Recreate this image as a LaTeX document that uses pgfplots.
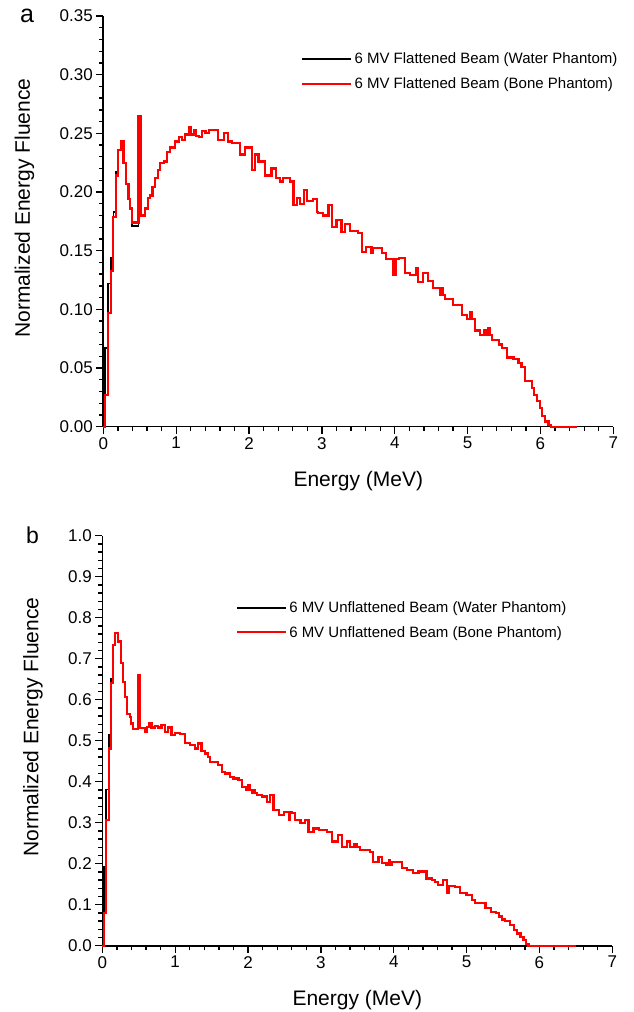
\documentclass[border=0pt]{standalone}
\usepackage{fontspec}
\setmainfont{Liberation Sans}
\usepackage{pgfplots}
\usepackage{pgfplotstable}
\pgfplotsset{compat=1.18}

\pgfplotstableread{
E water bone
0.000 0 0
0.022 0.067 0.027
0.062 0.122 0.097
0.102 0.144 0.133
0.138 0.183 0.179
0.170 0.217 0.214
0.207 0.236 0.236
0.239 0.243 0.243
0.276 0.225 0.225
0.308 0.207 0.207
0.345 0.194 0.194
0.368 0.186 0.186
0.391 0.171 0.174
0.482 0.265 0.265
0.514 0.180 0.180
0.575 0.186 0.186
0.611 0.195 0.195
0.644 0.197 0.197
0.676 0.204 0.204
0.713 0.212 0.212
0.749 0.219 0.219
0.782 0.225 0.225
0.828 0.226 0.226
0.874 0.234 0.234
0.920 0.238 0.238
0.989 0.243 0.243
1.034 0.247 0.247
1.080 0.244 0.244
1.117 0.249 0.249
1.172 0.255 0.255
1.209 0.249 0.249
1.241 0.253 0.253
1.274 0.248 0.248
1.310 0.247 0.247
1.356 0.252 0.252
1.402 0.250 0.250
1.448 0.253 0.253
1.579 0.244 0.244
1.657 0.250 0.250
1.716 0.243 0.243
1.762 0.242 0.242
1.876 0.232 0.232
1.945 0.238 0.238
2.040 0.219 0.219
2.080 0.232 0.232
2.130 0.226 0.226
2.220 0.214 0.214
2.310 0.220 0.220
2.370 0.212 0.212
2.420 0.209 0.209
2.470 0.212 0.212
2.560 0.209 0.209
2.610 0.189 0.189
2.660 0.195 0.195
2.700 0.190 0.190
2.760 0.202 0.202
2.800 0.192 0.192
2.880 0.194 0.194
2.930 0.183 0.183
2.950 0.182 0.182
3.020 0.180 0.180
3.090 0.189 0.189
3.140 0.170 0.170
3.200 0.176 0.176
3.270 0.166 0.166
3.320 0.173 0.173
3.390 0.167 0.167
3.500 0.165 0.165
3.550 0.149 0.149
3.610 0.153 0.153
3.680 0.148 0.148
3.700 0.152 0.152
3.820 0.148 0.148
3.880 0.143 0.143
3.980 0.129 0.129
4.010 0.143 0.143
4.060 0.144 0.144
4.140 0.131 0.131
4.210 0.129 0.129
4.300 0.135 0.135
4.320 0.123 0.123
4.390 0.131 0.131
4.460 0.124 0.124
4.530 0.118 0.118
4.620 0.112 0.112
4.640 0.118 0.118
4.660 0.112 0.112
4.690 0.109 0.109
4.800 0.104 0.104
4.920 0.095 0.095
4.990 0.092 0.092
5.030 0.098 0.098
5.060 0.092 0.092
5.100 0.082 0.082
5.170 0.078 0.078
5.220 0.082 0.082
5.260 0.078 0.078
5.280 0.084 0.084
5.300 0.078 0.078
5.330 0.074 0.074
5.430 0.070 0.070
5.470 0.067 0.067
5.540 0.059 0.059
5.630 0.058 0.058
5.700 0.054 0.054
5.740 0.051 0.051
5.790 0.039 0.039
5.880 0.033 0.033
5.910 0.027 0.027
5.950 0.022 0.022
5.990 0.016 0.016
6.020 0.009 0.009
6.060 0.0045 0.0045
6.110 0.0017 0.0017
6.150 0 0
6.500 0 0
}\topdata

\pgfplotstableread{
E water bone
0.000 0 0
0.020 0.193 0.079
0.055 0.381 0.307
0.092 0.514 0.481
0.115 0.652 0.640
0.147 0.733 0.733
0.179 0.762 0.762
0.216 0.742 0.742
0.252 0.689 0.689
0.284 0.644 0.644
0.316 0.607 0.607
0.344 0.566 0.566
0.376 0.558 0.558
0.399 0.542 0.542
0.422 0.528 0.528
0.486 0.660 0.660
0.520 0.530 0.530
0.583 0.522 0.522
0.619 0.534 0.534
0.642 0.544 0.544
0.674 0.532 0.532
0.720 0.536 0.536
0.766 0.532 0.532
0.812 0.538 0.538
0.858 0.522 0.522
0.904 0.532 0.532
0.950 0.514 0.514
0.995 0.518 0.518
1.064 0.517 0.517
1.133 0.494 0.494
1.202 0.490 0.490
1.271 0.481 0.481
1.317 0.493 0.493
1.362 0.474 0.474
1.408 0.469 0.469
1.454 0.461 0.461
1.480 0.449 0.449
1.590 0.441 0.441
1.640 0.424 0.424
1.685 0.420 0.420
1.754 0.412 0.412
1.800 0.408 0.408
1.870 0.404 0.404
1.915 0.388 0.388
1.980 0.380 0.380
2.000 0.392 0.392
2.020 0.380 0.380
2.050 0.372 0.372
2.080 0.380 0.380
2.100 0.372 0.372
2.120 0.368 0.368
2.190 0.364 0.364
2.260 0.351 0.351
2.300 0.368 0.368
2.350 0.331 0.331
2.420 0.319 0.319
2.490 0.327 0.327
2.560 0.306 0.306
2.580 0.327 0.327
2.600 0.323 0.323
2.650 0.306 0.306
2.720 0.300 0.300
2.780 0.306 0.306
2.830 0.278 0.278
2.900 0.286 0.286
2.970 0.282 0.282
3.080 0.278 0.278
3.150 0.254 0.254
3.240 0.270 0.270
3.290 0.241 0.241
3.360 0.254 0.254
3.400 0.241 0.241
3.450 0.249 0.249
3.490 0.241 0.241
3.540 0.233 0.233
3.670 0.229 0.229
3.720 0.205 0.205
3.790 0.217 0.217
3.840 0.201 0.201
3.900 0.197 0.197
3.930 0.209 0.209
3.950 0.197 0.197
3.970 0.205 0.205
4.110 0.189 0.189
4.180 0.185 0.185
4.270 0.177 0.177
4.340 0.181 0.181
4.450 0.164 0.164
4.520 0.160 0.160
4.570 0.156 0.156
4.610 0.148 0.148
4.680 0.160 0.160
4.730 0.128 0.128
4.760 0.146 0.146
4.840 0.144 0.144
4.910 0.128 0.128
5.000 0.124 0.124
5.070 0.112 0.112
5.120 0.104 0.104
5.260 0.091 0.091
5.330 0.083 0.083
5.400 0.079 0.079
5.440 0.071 0.071
5.490 0.064 0.064
5.530 0.061 0.061
5.600 0.050 0.050
5.650 0.038 0.038
5.690 0.030 0.030
5.740 0.022 0.022
5.780 0.014 0.014
5.820 0.004 0.004
5.850 0 0
6.500 0 0
}\botdata

\pgfplotsset{
  panel/.style={
    scale only axis,
    width=510pt,
    axis lines*=left,
    axis line style={line width=1.6pt},
    tick align=outside,
    major tick length=7pt,
    minor tick length=4pt,
    every tick/.style={black, line width=1.3pt},
    xmin=0, xmax=7, xtick={0,1,...,7},
    minor x tick num=4, minor y tick num=4,
    ymin=0,
    /pgf/number format/assume math mode=true,
    tick label style={font=\fontsize{17}{17}\selectfont},
    label style={font=\fontsize{21}{21}\selectfont},
    xlabel={Energy (MeV)},
    ylabel={Normalized Energy Fluence},
    legend cell align=left,
    legend image code/.code={\draw[##1, line width=2.2pt] (0pt,0pt) -- (49pt,0pt);},
    clip=false,
  },
}

\begin{document}
\begin{tikzpicture}[x=1pt,y=1pt]
\path[use as bounding box] (0,0) rectangle (633,1012);

\begin{axis}[panel,
  at={(103.3pt,585.3pt)}, anchor=south west,
  height=410.7pt,
  ymax=0.35, ytick={0,0.05,...,0.351},
  yticklabel style={/pgf/number format/.cd, fixed, fixed zerofill, precision=2},
  xlabel style={at={(axis description cs:0.5,-0.132)}, anchor=center},
  ylabel style={at={(axis description cs:-0.1545,0.532)}, anchor=center},
  legend style={draw=none, fill=none, at={(axis description cs:0.382,0.865)}, anchor=west,
    font=\fontsize{15}{15}\selectfont, row sep=9pt},
]
\addplot[const plot, black, line width=1.7pt] table[x=E, y=water] {\topdata};
\addlegendentry{6 MV Flattened Beam (Water Phantom)}
\addplot[const plot, red, line width=2.2pt] table[x=E, y=bone] {\topdata};
\addlegendentry{6 MV Flattened Beam (Bone Phantom)}
\end{axis}

\begin{axis}[panel,
  at={(102.3pt,66.3pt)}, anchor=south west,
  height=410pt,
  ymax=1.0, ytick={0,0.1,...,1.01},
  yticklabel style={/pgf/number format/.cd, fixed, fixed zerofill, precision=1},
  xlabel style={at={(axis description cs:0.5,-0.132)}, anchor=center},
  ylabel style={at={(axis description cs:-0.136,0.533)}, anchor=center},
  legend style={draw=none, fill=none, at={(axis description cs:0.256,0.794)}, anchor=west,
    font=\fontsize{15}{15}\selectfont, row sep=8pt},
]
\addplot[const plot, black, line width=1.7pt] table[x=E, y=water] {\botdata};
\addlegendentry{6 MV Unflattened Beam (Water Phantom)}
\addplot[const plot, red, line width=2.2pt] table[x=E, y=bone] {\botdata};
\addlegendentry{6 MV Unflattened Beam (Bone Phantom)}
\end{axis}

\node at (27,996) {\fontsize{25}{25}\selectfont a};
\node at (32.5,476.3) {\fontsize{23}{23}\selectfont b};
\end{tikzpicture}
\end{document}
